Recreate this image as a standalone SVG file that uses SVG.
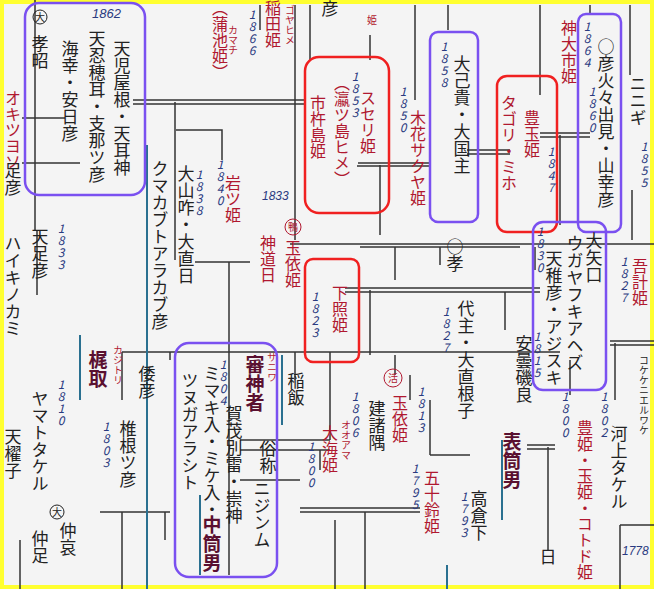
<svg xmlns="http://www.w3.org/2000/svg" width="654" height="589" viewBox="0 0 654 589">
<style>
.v{writing-mode:vertical-rl;text-orientation:upright;font-family:"Noto Sans CJK JP","Noto Sans",sans-serif;}
.k{fill:#222;font-size:17px}
.r{fill:#b01830;font-size:16px}
.p{fill:#5a1030;font-size:19px;font-weight:bold}
.b{fill:#2a3a80;font-size:12px;font-style:italic}
.s{font-size:10px}
.ln{stroke:#333;stroke-width:1.5;fill:none}
.tl{stroke:#2a7090;stroke-width:2;fill:none}
.pb{fill:none;stroke:#7a50f0;stroke-width:2.5}
.rb{fill:none;stroke:#f02020;stroke-width:2.5}
</style>
<rect x="0" y="0" width="654" height="589" fill="#f4f4f4"/>
<rect x="2" y="2" width="650" height="585" fill="none" stroke="#ffff30" stroke-width="4"/>
<g id="connectors">
<path class="ln" d="M133 100H305M133 104H305"/>
<path class="ln" d="M175 102V260M176 130H222V160M295 5V240M22 118H65M22 163H80M35 0V230M37 230V295"/>
<path class="ln" d="M195 262H250M229 262V575M260 5V30M310 5V60M370 35V60M415 5V100M448 5V30M540 5V95M590 5V15M630 5V75M632 190V240"/>
<path class="ln" d="M358 163H430M357 166H430M380 165V235M467 150H510M467 154H510M540 133H590M540 137H590M560 135V225"/>
<path class="ln" d="M290 244H654M360 247H520M395 247V280M440 247V265M535 247V270"/>
<path class="ln" d="M345 288H540M345 292H540M370 290V355"/>
<path class="ln" d="M122 352H560M122 352V400M170 352V360M295 352V380M330 352V440M505 292V330"/>
<path class="ln" d="M610 341H654M610 345H654M615 343V400M570 360V395"/>
<path class="ln" d="M240 440H330M240 450H330M320 450V470M240 480H300M100 512H170M122 512V589M165 512V540"/>
<path class="ln" d="M300 508H420M300 512H420M365 512V589M395 355V375M410 375V400M430 400V455M430 455H470"/>
<path class="ln" d="M527 445H555M527 449H555M548 447V550M620 525V589M620 525H654M335 520V589M20 540V589"/>
</g>
<g id="tl">
<path class="tl" d="M147 145V589M80 335V400M200 495V575M282 355V425M502 440V520M447 565V589"/>
</g>
<g id="n1"><rect class="pb" x="25" y="3" width="120" height="192" rx="14"/>
<circle cx="40" cy="17" r="7" fill="none" stroke="#222"/><text class="v k s" x="40" y="12">大</text>
<text class="v k" x="40" y="35">孝昭</text>
<text class="v k" x="122" y="40">天児屋根・天耳神</text>
<text class="v k" x="97" y="30">天忍穂耳・支那ツ彦</text>
<text class="v k" x="70" y="40">海幸・安日彦</text>
<text x="92" y="18" fill="#2a3a80" font-size="13" font-style="italic" font-family="Liberation Sans,sans-serif">1862</text></g>
<g id="n2"><text class="v r" x="220" y="0">（蒲池姫）</text><text class="v r s" x="233" y="25">カマチ</text>
<text class="v r" x="273" y="0">稲田姫</text><text class="v r s" x="290" y="5">ゴヤヒメ</text>
<text class="v b" x="252" y="8">1866</text>
<text class="v r s" x="372" y="15">姫</text><text class="v k" x="330" y="0">彦</text></g>
<g id="n3"><rect class="rb" x="305" y="57" width="84" height="156" rx="14"/>
<text class="v b" x="355" y="70">1853</text>
<text class="v r" x="368" y="90">スセリ姫</text>
<text class="v r" x="342" y="75">（瀛ツ島ヒメ）</text>
<text class="v r" x="318" y="95">市杵島姫</text></g>
<g id="n4"><text class="v b" x="403" y="85">1850</text><text class="v r" x="418" y="110">木花サクヤ姫</text></g>
<g id="n5"><rect class="pb" x="430" y="32" width="48" height="190" rx="8"/>
<text class="v b" x="444" y="40">1858</text><text class="v k" x="462" y="55">大己貴・大国主</text></g>
<g id="n6"><rect class="rb" x="497" y="76" width="60" height="156" rx="10"/>
<text class="v r" x="509" y="95">タゴリ・ミホ</text><text class="v r" x="532" y="110">豊玉姫</text><text class="v b" x="551" y="145">1847</text></g>
<g id="n7"><text class="v r" x="569" y="20">神大市姫</text></g>
<g id="n8"><rect class="pb" x="578" y="14" width="43" height="218" rx="8"/>
<text class="v b" x="587" y="20">1864</text><text class="v b" x="592" y="85">1860</text>
<text class="v k" x="606" y="38">○彦火々出見・山幸彦</text></g>
<g id="n9"><text class="v k" x="638" y="75">ニニギ</text><text class="v b" x="644" y="140">1855</text></g>
<g id="n10"><rect class="pb" x="533" y="222" width="73" height="168" rx="10"/>
<text class="v b" x="540" y="225">1830</text>
<text class="v k" x="594" y="232">大矢口</text>
<text class="v k" x="575" y="235">ウガヤフキアヘズ</text>
<text class="v k" x="554" y="250">天稚彦・アジスキ</text></g>
<g id="n11"><text class="v b" x="624" y="255">1827</text><text class="v r" x="640" y="258">吾計姫</text></g>
<g id="n12"><text class="b" x="262" y="200" font-family="Liberation Sans,sans-serif">1833</text>
<circle cx="293" cy="227" r="8" fill="none" stroke="#b01830"/><text class="v r s" x="293" y="222">鴨</text>
<text class="v r" x="268" y="235">神道日</text><text class="v r" x="293" y="240">玉依姫</text></g>
<g id="n13"><rect class="rb" x="305" y="259" width="54" height="103" rx="8"/>
<text class="v b" x="315" y="290">1823</text><text class="v r" x="340" y="285">下照姫</text></g>
<g id="n14"><text class="v k" x="455" y="238">○孝</text><text class="v k" x="466" y="300">代主・大直根子</text><text class="v b" x="446" y="305">1827</text></g>
<g id="n15"><text class="v k" x="186" y="165">大山咋・大直日</text><text class="v b" x="199" y="168">1838</text>
<text class="v b" x="220" y="158">1840</text><text class="v r" x="233" y="175">岩ツ姫</text>
<text class="v k" x="160" y="160">クマカブトアラカブ彦</text></g>
<g id="n16"><text class="v k" x="40" y="228">天足彦</text><text class="v b" x="61" y="222">1833</text>
<text class="v k" x="13" y="235" font-size="14">ハイキノカミ</text><text class="v r" x="13" y="90" font-size="14">オキツヨソ</text><text class="v k" x="13" y="162" font-size="14">足彦</text></g>
<g id="n17"><text class="v k" x="296" y="372">稲飯</text><text class="v p" x="255" y="355">審神者</text><text class="v r s" x="272" y="352">サニワ</text></g>
<g id="n18"><rect class="pb" x="175" y="343" width="102" height="234" rx="14"/>
<text class="v b" x="223" y="358">1804</text>
<text class="v k" x="234" y="405">賀茂別雷・崇神</text>
<text class="v k" x="212" y="365">ミマキ入・ミケ入・</text><text class="v p" x="212" y="515">中筒男</text>
<text class="v k" x="190" y="372">ツヌガアラシト</text>
<text class="v k" x="268" y="440">俗称</text><text class="v k" x="262" y="480">ニジンム</text></g>
<g id="n19"><text class="v p" x="98" y="350">梶取</text><text class="v r s" x="118" y="345">カジトリ</text>
<text class="v k" x="147" y="365">倭彦</text><text class="v k" x="128" y="420">椎根ツ彦</text><text class="v b" x="106" y="420">1803</text></g>
<g id="n20"><text class="v b" x="61" y="378">1810</text><text class="v k" x="40" y="390">ヤマトタケル</text><text class="v k" x="13" y="428" font-size="14">天櫂子</text>
<circle cx="57" cy="512" r="7" fill="none" stroke="#222"/><text class="v k s" x="57" y="507">大</text>
<text class="v k" x="68" y="522">仲哀</text><text class="v k" x="40" y="530">仲足</text></g>
<g id="n21"><text class="v b" x="355" y="390">1806</text><text class="v k" x="377" y="400">建諸隅</text>
<circle cx="393" cy="378" r="9" fill="none" stroke="#b01830"/><text class="v r s" x="393" y="373">活</text>
<text class="v r" x="400" y="395">玉依姫</text><text class="v b" x="421" y="385">1813</text>
<text class="v r" x="330" y="425">大海姫</text><text class="v r s" x="346" y="420">オオアマ</text><text class="v b" x="311" y="440">1800</text></g>
<g id="n22"><text class="v r" x="432" y="470">五十鈴姫</text><text class="v b" x="415" y="462">1795</text>
<text class="v b" x="464" y="490">1793</text><text class="v k" x="479" y="490">高倉下</text></g>
<g id="n23"><text class="v k" x="524" y="335">安曇磯良</text><text class="v b" x="537" y="330">1815</text>
<text class="v p" x="512" y="432">表筒男</text></g>
<g id="n24"><text class="v b" x="565" y="390">1800</text><text class="v r" x="585" y="420">豊姫・玉姫・コトド姫</text>
<text class="v b" x="604" y="390">1802</text><text class="v k" x="619" y="425">河上タケル</text>
<text class="v k s" x="644" y="355">コケケニエルワケ</text>
<text class="b" x="622" y="555" font-family="Liberation Sans,sans-serif">1778</text><text class="v k" x="548" y="548">日</text></g>
</svg>
